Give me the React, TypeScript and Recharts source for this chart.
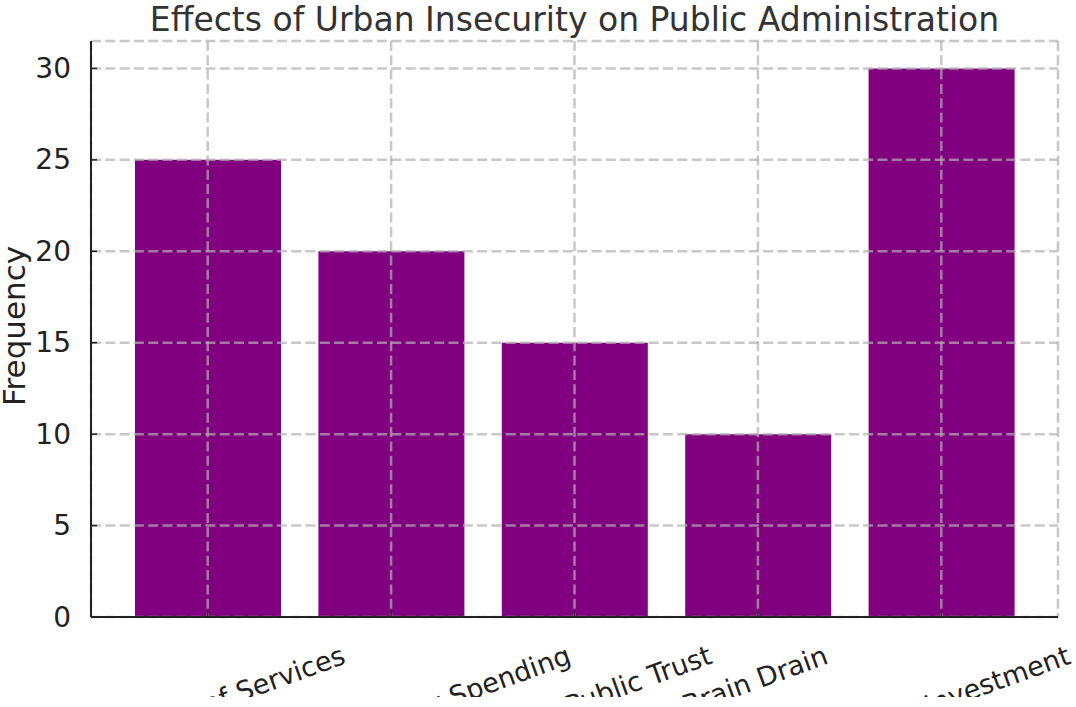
import { BarChart, Bar, XAxis, YAxis, CartesianGrid } from 'recharts';

const categories = [
  'Disruption of Services',
  'Increased Security Spending',
  'Erosion of Public Trust',
  'Brain Drain',
  'Reduced Investment',
];
const frequencies = [25, 20, 15, 10, 30];
const yTicks = [0, 5, 10, 15, 20, 25, 30];

const FONT = '"DejaVu Sans", Verdana, sans-serif';
const BAR_COLOR = '#800080';
const ANGLE = 20;
const XFONT = 27;
// the source image stops just under the labels
const LABEL_CLIP_Y = 697;

const data = categories.map((name, i) => ({ name, value: frequencies[i] }));

let ctx: CanvasRenderingContext2D | null = null;
function textWidth(s: string) {
  if (!ctx) {
    ctx = document.createElement('canvas').getContext('2d');
  }
  if (!ctx) return s.length * 15;
  ctx.font = `${XFONT}px "DejaVu Sans"`;
  return ctx.measureText(s).width;
}

// matplotlib-style rotated label, centred on the tick
function XTick(props: any) {
  const { x, y, payload, index } = props;
  const w = textWidth(payload.value);
  const rad = (ANGLE * Math.PI) / 180;
  const ex = x + (w / 2) * Math.cos(rad);
  const ey = y + 46;
  const clipId = `xlabel-clip-${index}`;
  return (
    <g>
      <defs>
        <clipPath id={clipId}>
          <rect x={0} y={0} width={1076} height={LABEL_CLIP_Y} />
        </clipPath>
      </defs>
      <line x1={x} x2={x} y1={y - 6} y2={y} stroke="#222" strokeWidth={1.5} />
      <g clipPath={`url(#${clipId})`}>
        <text
          x={ex}
          y={ey}
          textAnchor="end"
          fontSize={XFONT}
          fontFamily={FONT}
          fill="#222"
          transform={`rotate(-${ANGLE} ${ex} ${ey})`}
        >
          {payload.value}
        </text>
      </g>
    </g>
  );
}

function YTick(props: any) {
  const { x, y, payload } = props;
  return (
    <g>
      <line x1={x} x2={x + 6} y1={y} y2={y} stroke="#222" strokeWidth={1.5} />
      <text
        x={x - 20}
        y={y}
        textAnchor="end"
        dominantBaseline="central"
        fontSize={28}
        fontFamily={FONT}
        fill="#222"
      >
        {payload.value}
      </text>
    </g>
  );
}

export default function App() {
  return (
    <div style={{ position: 'absolute', left: 0, top: 0, width: 1076, height: 707, background: '#fff' }}>
      <BarChart
        width={1076}
        height={707}
        data={data}
        margin={{ top: 41, right: 18, bottom: 0, left: 0 }}
      >
        <XAxis
          dataKey="name"
          height={90}
          padding={{ left: 25, right: 25 }}
          tickSize={0}
          tickMargin={0}
          tickLine={false}
          interval={0}
          axisLine={{ stroke: '#222', strokeWidth: 2 }}
          tick={<XTick />}
        />
        <YAxis
          width={91}
          domain={[0, 31.5]}
          ticks={yTicks}
          allowDataOverflow
          tickSize={0}
          tickMargin={0}
          tickLine={false}
          axisLine={{ stroke: '#222', strokeWidth: 2 }}
          tick={<YTick />}
        />
        <Bar dataKey="value" fill={BAR_COLOR} barSize={146} isAnimationActive={false} />
        {/* grid sits over the bars but under the axes */}
        <CartesianGrid
          stroke="#b0b0b0"
          strokeOpacity={0.7}
          strokeWidth={2.5}
          strokeDasharray="10 4.3"
          zIndex={350}
        />
      </BarChart>
      <svg
        width={1076}
        height={707}
        style={{ position: 'absolute', left: 0, top: 0, pointerEvents: 'none' }}
      >
        <text x={574.5} y={31} textAnchor="middle" fontSize={33} fontFamily={FONT} fill="#333">
          Effects of Urban Insecurity on Public Administration
        </text>
        <text
          x={25}
          y={326}
          textAnchor="middle"
          fontSize={31}
          fontFamily={FONT}
          fill="#222"
          transform="rotate(-90 25 326)"
        >
          Frequency
        </text>
      </svg>
    </div>
  );
}
